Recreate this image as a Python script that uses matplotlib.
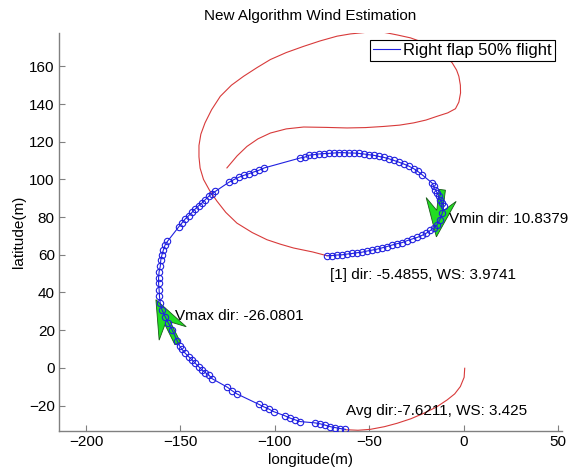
import numpy as np
import matplotlib
matplotlib.use('Agg')
import matplotlib.pyplot as plt

plt.rcParams['font.family'] = ['Liberation Sans', 'DejaVu Sans']

# blue track (points used by the estimator), longitude / latitude in metres
bx = [-62.7, -65.3, -68.0, -70.6, -73.3, -75.9, -78.6,
      -86.5, -89.2, -91.8, -94.5,
      -100.7, -103.3, -106.0, -108.6,
      -120.1, -122.7, -125.1,
      -133.3, -135.1, -136.9, -138.6, -140.4, -142.2, -143.9, -145.7, -147.5, -149.2, -150.5, -151.6,
      -154.4, -156.5, -158.1, -159.8, -160.7, -161.1, -161.3, -161.6, -161.6, -161.3, -160.7, -160.4,
      -159.8, -159.0, -158.1, -156.9,
      -151.0, -149.2, -147.5, -145.7, -143.9, -142.2, -140.4, -138.6, -136.9, -135.1, -133.3, -131.6,
      -124.5, -121.9, -119.2, -116.6, -113.9, -111.3, -108.6, -105.6,
      -86.5, -83.9, -82.1, -79.5, -76.8, -74.2, -71.5, -68.9, -66.2, -63.6, -60.9, -58.3, -55.6,
      -53.0, -50.3, -47.7, -45.0, -42.4, -39.8, -37.1, -34.5, -31.8, -29.2, -26.5, -24.4, -22.1,
      -16.8, -15.9, -15.0, -14.1, -13.3, -12.4, -11.5, -10.6, -11.3, -12.7,
      -14.1, -15.9, -17.7, -19.8, -22.1, -24.7, -27.3, -30.0, -32.6, -35.3, -37.9, -40.6, -43.2,
      -45.9, -48.5, -51.2, -53.8, -56.5, -59.1, -61.8, -64.4, -67.1, -69.7, -72.4]
by = [-32.6, -32.2, -31.7, -31.2, -30.4, -29.7, -29.2,
      -28.5, -27.6, -26.7, -25.5,
      -23.2, -21.8, -20.6, -19.3,
      -13.8, -12.1, -10.3,
      -5.7, -3.7, -2.5, -1.1, 0.7, 2.5, 4.3, 6.0, 7.8, 9.9, 11.7, 14.0,
      20.2, 23.9, 27.2, 30.8, 34.4, 37.9, 41.4, 45.0, 47.6, 51.1, 53.8, 57.4,
      60.0, 62.7, 65.3, 67.1,
      74.7, 76.9, 79.0, 80.7, 82.5, 84.3, 86.0, 87.5, 89.2, 91.0, 92.3, 93.6,
      98.4, 99.8, 101.1, 102.1, 103.0, 103.9, 104.8, 106.1,
      111.4, 111.9, 112.8, 113.1, 113.5, 113.7, 113.8, 114.0, 114.2, 114.2, 114.0, 114.0, 113.8,
      113.5, 113.1, 112.8, 112.2, 111.7, 111.0, 110.1, 109.2, 108.2, 107.1, 105.7, 104.3, 102.5,
      98.1, 96.3, 94.5, 92.8, 91.0, 89.2, 87.5, 85.7, 82.3, 78.6,
      75.9, 74.2, 72.9, 71.5, 70.3, 69.2, 68.4, 67.5, 66.5, 65.9, 65.2, 64.4, 63.7,
      63.0, 62.5, 62.0, 61.4, 61.1, 60.7, 60.4, 60.0, 59.9, 59.6, 59.5]

# red track (whole flight), two visible pieces
rx1 = [0.5, 0.2, -1.8, -4.8, -8.8, -14.5, -21.2, -28.0, -35.3, -42.0, -49.4, -56.0, -62.7]
ry1 = [-0.2, -5.0, -9.9, -13.8, -17.0, -20.8, -24.1, -27.0, -29.4, -31.2, -32.6, -33.1, -32.8]
rx2 = [-72.4, -80.0, -90.1, -97.0, -104.2, -112.0, -120.1, -126.0, -130.7, -134.5, -137.8,
       -139.6, -140.2, -140.2, -139.2, -137.0, -133.5, -128.9, -123.0, -116.6, -109.5, -102.4,
       -94.0, -84.8, -76.0, -67.1, -60.0, -53.0, -47.0, -41.5, -35.0, -28.2, -21.0, -14.1,
       -9.5, -6.1, -3.8, -2.6, -1.8, -1.7, -2.6, -4.4, -8.5, -14.1, -20.0, -26.5, -34.0,
       -42.4, -52.0, -61.8, -73.0, -84.8, -94.0, -102.4, -109.0, -114.8, -120.0, -125.4]
ry2 = [59.5, 61.5, 63.6, 65.6, 68.0, 71.8, 76.8, 82.5, 88.5, 94.0, 100.0,
       106.0, 112.0, 118.0, 124.0, 130.0, 137.0, 144.1, 150.0, 154.7, 159.3, 163.6,
       167.3, 170.6, 173.5, 176.0, 177.2, 177.9, 178.7, 177.9, 176.6, 175.1, 172.5, 168.9,
       165.5, 161.8, 158.0, 154.7, 150.0, 145.9, 141.0, 137.5, 135.3, 133.5, 131.5, 130.0, 128.8,
       128.1, 127.5, 127.3, 127.6, 127.8, 126.8, 124.6, 121.5, 117.5, 112.5, 106.1]

# wind arrows: tail x, tail y, dx, dy
arrows = [(-11.3, 94.5, -3.2, -25.0), (-151.5, 13.0, -11.5, 23.2)]

labels = ['Vmin dir: 10.8379', '[1] dir: -5.4855, WS: 3.9741',
          'Vmax dir: -26.0801', 'Avg dir:-7.6211, WS: 3.425']
label_pos = [(-7.6, 79.1), (-71.0, 49.4), (-152.8, 27.6), (-62.2, -22.7)]

fig = plt.figure(figsize=(5.82, 4.71), dpi=100)
ax = fig.add_axes([0.1014, 0.0849, 0.8642, 0.8451])

ax.plot(rx1, ry1, color='#d83a3a', lw=0.8, zorder=2)
ax.plot(rx2, ry2, color='#d83a3a', lw=0.8, zorder=2)

for x, y, dx, dy in arrows:
    ax.arrow(x, y, dx, dy, width=3.2, head_width=16, head_length=20, overhang=0.3,
             length_includes_head=True, fc='#22dd22', ec='#1a5a1a', lw=0.6, zorder=3)

ax.plot(bx, by, color='#2020e0', lw=0.8, marker='o', ms=4.6, mfc='none', mew=0.8,
        label='Right flap 50% flight', zorder=4)

for t, (x, y) in zip(labels, label_pos):
    ax.text(x, y, t, fontsize=11, va='center', ha='left', zorder=5)

ax.set_xlim(-214.3, 52)
ax.set_ylim(-33.5, 177.7)
ax.set_xticks([-200, -150, -100, -50, 0, 50])
ax.set_yticks([-20, 0, 20, 40, 60, 80, 100, 120, 140, 160])
ax.tick_params(direction='in', length=4, width=0.8, color='#808080', labelsize=11, pad=3)
for s in ['top', 'right']:
    ax.spines[s].set_visible(False)
for s in ['left', 'bottom']:
    ax.spines[s].set_color('#808080')
    ax.spines[s].set_linewidth(1.0)

ax.set_title('New Algorithm Wind Estimation', fontsize=11, pad=9)
ax.set_xlabel('longitude(m)', fontsize=11, labelpad=3)
ax.set_ylabel('latitude(m)', fontsize=11, labelpad=2)

leg = ax.legend(loc='upper right', fontsize=12, fancybox=False, framealpha=1,
                edgecolor='black', handlelength=1.6, handletextpad=0.2,
                borderpad=0.2, borderaxespad=0.4)
leg.get_frame().set_linewidth(0.8)
leg.legend_handles[0].set_marker('')

fig.savefig('out.png', dpi=100)
